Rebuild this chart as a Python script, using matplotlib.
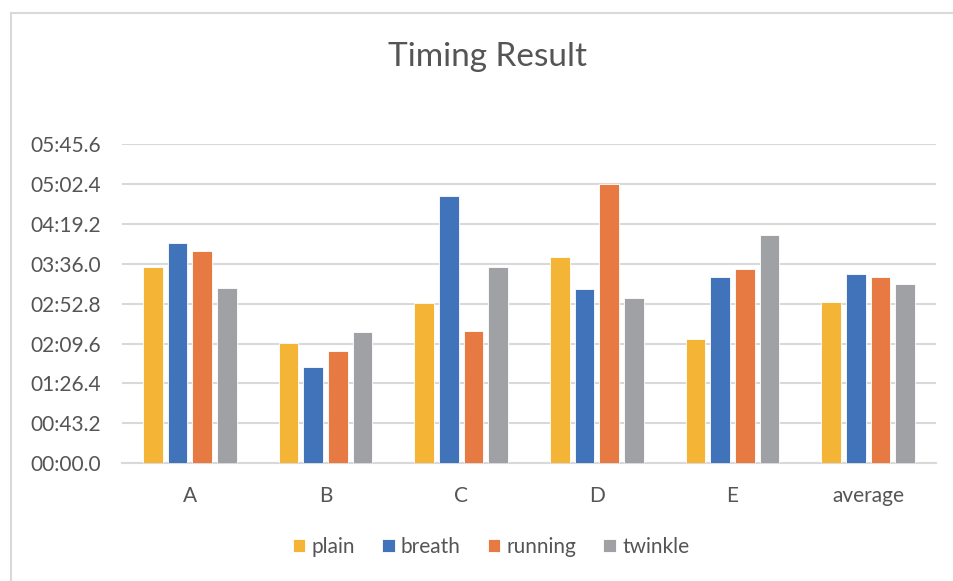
import matplotlib
matplotlib.use("Agg")
import matplotlib.pyplot as plt
from matplotlib.ticker import FuncFormatter, MultipleLocator
from matplotlib.lines import Line2D
import numpy as np

# data (seconds)
categories = ["A", "B", "C", "D", "E", "average"]
plain = [212.8, 130.5, 173.8, 223.6, 134.2, 175.0]
breath = [238.4, 104.6, 289.6, 188.6, 201.6, 204.6]
running = [230.1, 121.9, 142.9, 302.4, 210.6, 201.6]
twinkle = [189.7, 142.5, 212.1, 178.9, 247.4, 194.1]

series = {"plain": plain, "breath": breath, "running": running, "twinkle": twinkle}
colors = ["#F4B436", "#4173BA", "#E67A42", "#A0A1A4"]

plt.rcParams['font.family'] = ['Lato', 'DejaVu Sans']
text_col = "#555555"

W, H = 954, 581
fig = plt.figure(figsize=(W / 100, H / 100), dpi=100)
ax = fig.add_axes([122 / W, (H - 463.3) / H, (936 - 122) / W, (463.3 - 144) / H])

x = np.arange(len(categories))
width = 0.144
pitch = 0.182
for i, (name, vals) in enumerate(series.items()):
    ax.bar(x + (i - 1.5) * pitch, vals, width, color=colors[i], label=name,
           edgecolor="white", linewidth=0.6, zorder=3)

ax.set_xlim(-0.5, len(categories) - 0.5)
ax.set_ylim(0, 345.6)
ax.yaxis.set_major_locator(MultipleLocator(43.2))

def mmss(v, pos):
    v = round(v, 1)
    return f"{int(v // 60):02d}:{v % 60:04.1f}"

ax.yaxis.set_major_formatter(FuncFormatter(mmss))
ax.set_xticks(x)
ax.set_xticklabels(categories)
ax.tick_params(axis="both", length=0, labelsize=15, labelcolor=text_col)
ax.tick_params(axis="y", pad=15)
ax.tick_params(axis="x", pad=16)

ax.grid(axis="y", color="#D9D9D9", linewidth=1.5, zorder=0)
for s in ["top", "right", "left"]:
    ax.spines[s].set_visible(False)
ax.spines["bottom"].set_color("#D9D9D9")
ax.spines["bottom"].set_linewidth(1.5)

fig.text(488 / W, 1 - 57 / H, "Timing Result", ha="center", va="center",
         fontsize=24, color=text_col)

fig.legend(loc="center", bbox_to_anchor=(491 / W, 1 - 547 / H), ncol=4,
           frameon=False, handlelength=0.6, handleheight=0.6,
           handletextpad=0.3, columnspacing=1.3, fontsize=15,
           labelcolor=text_col)

# chart area border (top and left visible)
fig.add_artist(Line2D([11 / W, 1], [1 - 13 / H, 1 - 13 / H], color="#D9D9D9", linewidth=1.5))
fig.add_artist(Line2D([11 / W, 11 / W], [0, 1 - 13 / H], color="#D9D9D9", linewidth=1.5))

fig.savefig("out.png", dpi=100)
